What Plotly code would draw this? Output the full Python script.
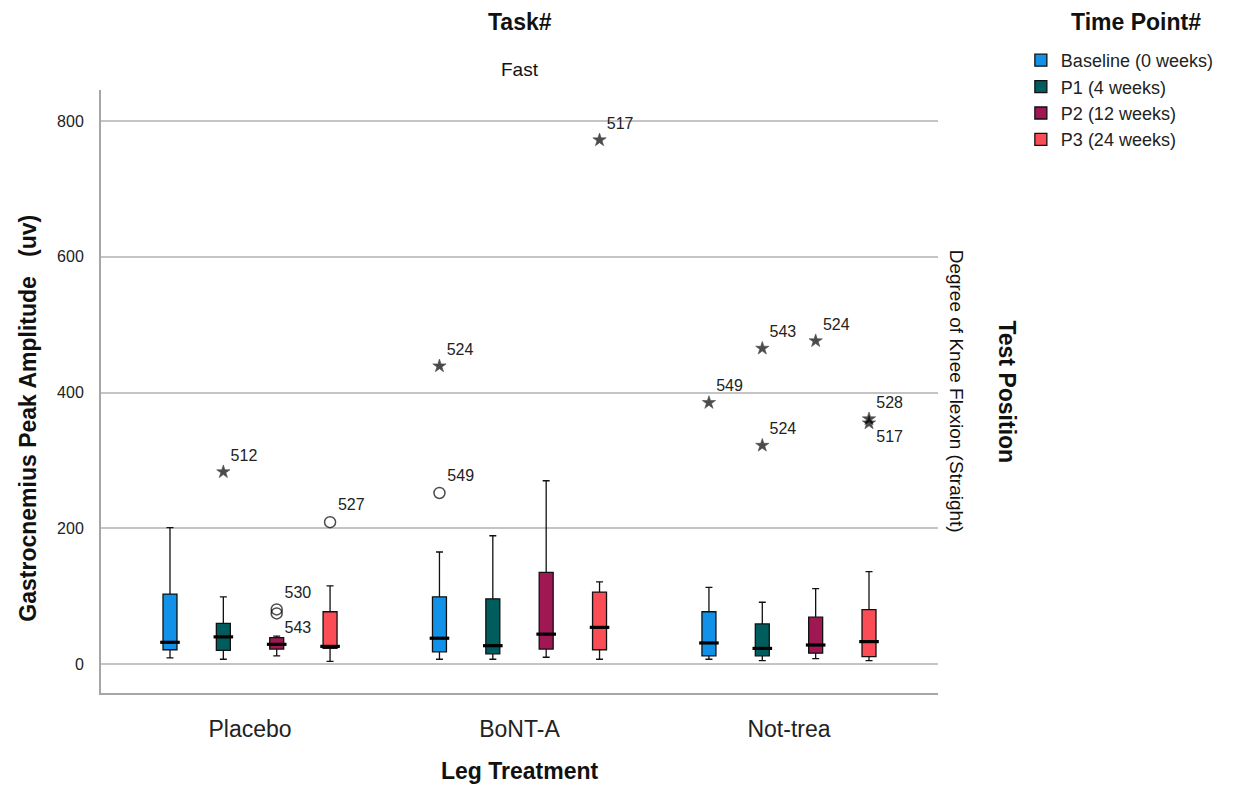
import plotly.graph_objects as go

# ---------------- data ----------------
categories = ["Placebo", "BoNT-A", "Not-trea"]
timepoints = ["Baseline (0 weeks)", "P1 (4 weeks)", "P2 (12 weeks)", "P3 (24 weeks)"]
colors = ["#1192e8", "#005d5d", "#9f1853", "#fa4d56"]

# box statistics per time point, one value per category
lower_fence = [[9, 7, 7], [7, 7, 5], [12, 10, 8], [4, 7, 5]]
q1 = [[21, 18, 12], [20, 15, 12], [22, 22, 16], [23, 21, 11]]
median = [[32, 38, 31], [40, 27, 23], [29, 44, 28], [26, 54, 33]]
q3 = [[103, 99, 77], [60, 96, 59], [39, 135, 69], [77, 106, 80]]
upper_fence = [[201, 165, 113], [99, 189, 91], [41, 270, 111], [115, 121, 136]]

# outliers per time point: category, value, case label, kind ("star" extreme / "circle")
out_cat = [
    ["BoNT-A", "BoNT-A", "Not-trea"],
    ["Placebo", "Not-trea", "Not-trea"],
    ["Placebo", "Placebo", "Not-trea"],
    ["Placebo", "BoNT-A", "Not-trea", "Not-trea"],
]
out_val = [
    [252, 439, 385],
    [283, 465, 322],
    [80.5, 74.5, 476],
    [209, 772, 361, 355],
]
out_lab = [
    ["549", "524", "549"],
    ["512", "543", "524"],
    ["530", "543", "524"],
    ["527", "517", "528", "517"],
]
out_kind = [
    ["circle", "star", "star"],
    ["star", "star", "star"],
    ["circle", "circle", "star"],
    ["circle", "star", "star", "star"],
]
out_textpos = [
    ["top right", "top right", "top right"],
    ["top right", "top right", "top right"],
    ["top right", "bottom right", "top right"],
    ["top right", "top right", "top right", "bottom right"],
]

y_ticks = [0, 200, 400, 600, 800]

FONT = "Liberation Sans, Arial, sans-serif"
GAP = 0.208

fig = go.Figure()

for i, tp in enumerate(timepoints):
    fig.add_trace(go.Box(
        name=tp,
        x=categories,
        q1=q1[i], median=median[i], q3=q3[i],
        lowerfence=lower_fence[i], upperfence=upper_fence[i],
        fillcolor=colors[i],
        line=dict(color="#111111", width=1.3),
        whiskerwidth=0.5,
        offsetgroup=tp,
        boxpoints=False,
        hoverinfo="skip",
    ))

# thick median bars (SPSS style)
for i, tp in enumerate(timepoints):
    fig.add_trace(go.Scatter(
        x=categories, y=median[i], mode="markers",
        marker=dict(symbol="line-ew", size=14, line=dict(color="#000000", width=3.2)),
        offsetgroup=tp, showlegend=False, hoverinfo="skip",
    ))

# outliers
for i, tp in enumerate(timepoints):
    symbols = ["star" if k == "star" else "circle-open" for k in out_kind[i]]
    sizes = [10 if k == "star" else 11 for k in out_kind[i]]
    lw = [0.6 if k == "star" else 1.5 for k in out_kind[i]]
    fig.add_trace(go.Scatter(
        x=out_cat[i], y=out_val[i], mode="markers+text",
        text=out_lab[i], textposition=out_textpos[i],
        textfont=dict(family=FONT, size=16, color="#222222"),
        marker=dict(symbol=symbols, size=sizes, color="#000000",
                    line=dict(color="#000000", width=lw)),
        offsetgroup=tp, showlegend=False, hoverinfo="skip",
    ))

annotations = [
    dict(text="<b>Task#</b>", x=0.5, y=1.1128, font=dict(size=23)),
    dict(text="Fast", x=0.5, y=1.0332, font=dict(size=19)),
    dict(text="<b>Time Point#</b>", x=1.2366, y=1.1128, font=dict(size=23)),
    dict(text="Degree of Knee Flexion (Straight)", x=1.0225, y=0.5, textangle=90, font=dict(size=19)),
    dict(text="<b>Test Position</b>", x=1.0825, y=0.5, textangle=90, font=dict(size=23)),
    dict(text="<b>Gastrocnemius Peak Amplitude   (uv)</b>", x=-0.0872, y=0.455, textangle=-90, font=dict(size=23)),
    dict(text="<b>Leg Treatment</b>", x=0.5, y=-0.129, font=dict(size=23)),
]
for a in annotations:
    a.update(xref="paper", yref="paper", xanchor="center", yanchor="middle", showarrow=False)
    a["font"].update(family=FONT, color="#111111")

# page body has an 8px default margin; figure size/margins compensate for it
fig.update_layout(
    width=1237, height=778,
    margin=dict(l=93, r=307, t=82, b=93, pad=0),
    paper_bgcolor="white", plot_bgcolor="white",
    boxmode="group", boxgap=GAP, boxgroupgap=0.738,
    scattermode="group", scattergap=GAP,
    font=dict(family=FONT, color="#222222"),
    showlegend=True,
    legend=dict(
        x=1.099, y=1.0796, xanchor="left", yanchor="top",
        font=dict(family=FONT, size=18, color="#222222"),
        bgcolor="rgba(0,0,0,0)", traceorder="normal",
    ),
    annotations=annotations,
)

fig.update_xaxes(
    type="category", categoryorder="array", categoryarray=categories,
    range=[-0.553, 2.553],
    showgrid=False, zeroline=False,
    showline=True, linecolor="#a6a6a6", linewidth=2,
    ticks="outside", ticklen=14, tickcolor="rgba(0,0,0,0)",
    tickfont=dict(family=FONT, size=23, color="#222222"),
)
fig.update_yaxes(
    range=[-42.7, 845.7],
    tickvals=y_ticks,
    showgrid=True, gridcolor="#c4c4c4", gridwidth=1.5,
    zeroline=False,
    showline=True, linecolor="#a6a6a6", linewidth=2,
    ticks="outside", ticklen=12, tickcolor="rgba(0,0,0,0)",
    tickfont=dict(family=FONT, size=16, color="#222222"),
)

fig.write_html("out.html")
